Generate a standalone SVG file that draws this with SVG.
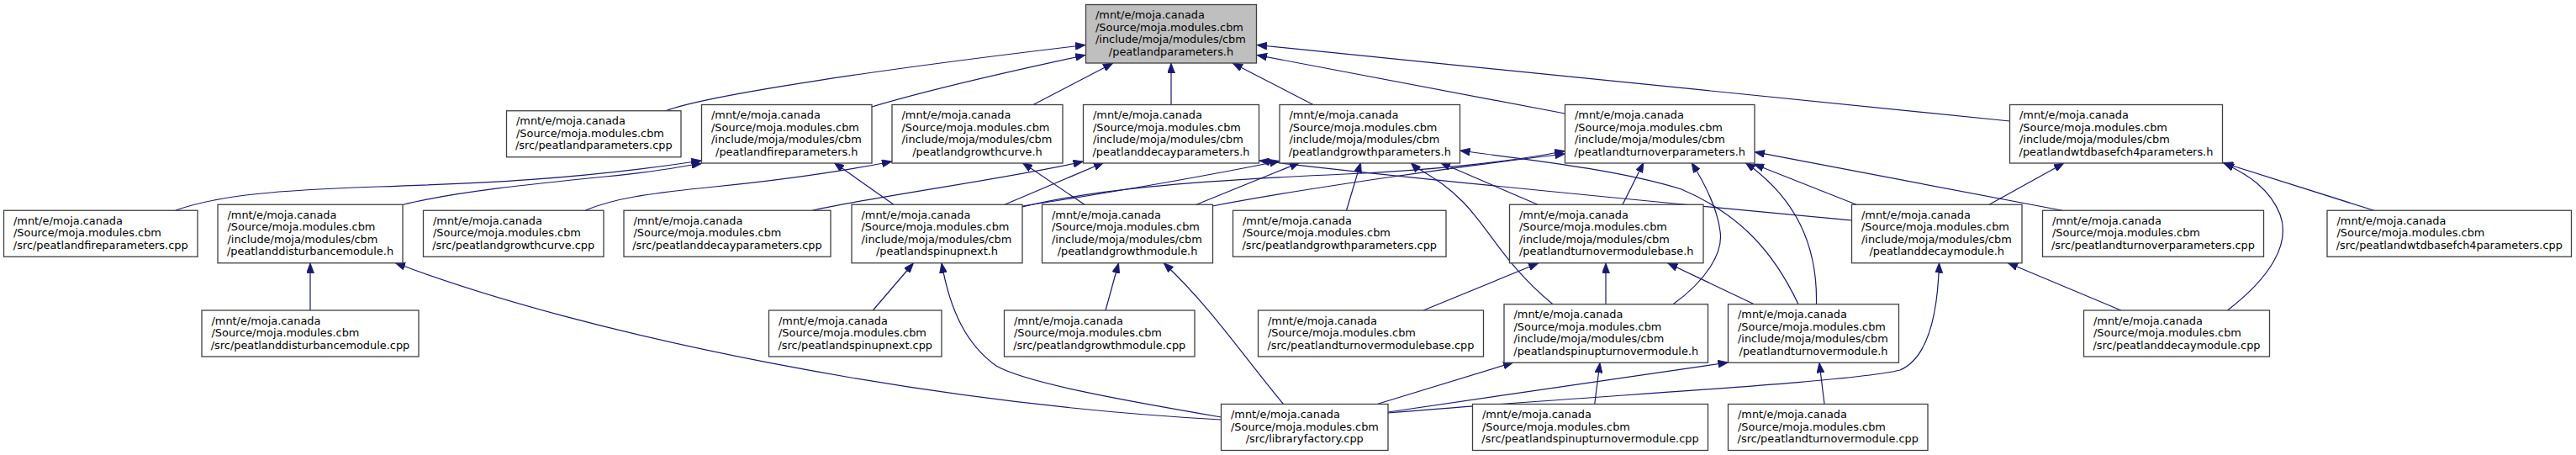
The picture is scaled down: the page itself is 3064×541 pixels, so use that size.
<svg xmlns="http://www.w3.org/2000/svg" width="3064" height="541" viewBox="0 0 3064 541">
<style>
.n rect{fill:#ffffff;stroke:#404040;stroke-width:1.3}
.m rect{fill:#bfbfbf;stroke:#404040;stroke-width:1.3}
text{font-family:"DejaVu Sans","Liberation Sans",sans-serif;font-size:12.9px;fill:#000}
.c{text-anchor:middle}
#edges path{fill:none;stroke:#191970;stroke-width:1.2;marker-end:url(#ah)}
</style>
<defs>
<marker id="ah" viewBox="0 0 12 9" refX="12" refY="4.5" markerWidth="12" markerHeight="9" markerUnits="userSpaceOnUse" orient="auto">
<path d="M0,0 L12,4.5 L0,9 z" fill="#191970" stroke="#191970" stroke-width="0.8"/>
</marker>
</defs>
<rect width="3064" height="541" fill="#ffffff"/>
<g id="edges">
<path d="M791,132 C840,113 1050,82 1291,53.5"/>
<path d="M1037,127 C1110,105 1200,85 1291,65.5"/>
<path d="M1229,124.5 L1324,75"/>
<path d="M1393,124.5 L1393,75"/>
<path d="M1562,124.5 L1466,75"/>
<path d="M1861.5,135 L1495,65.5"/>
<path d="M2390.5,144 L1495,53.5"/>
<path d="M209,250 C260,232 330,226 450,222 S680,214 834.5,191"/>
<path d="M479,243.5 C540,228 640,218 720,210 S800,199 834.5,194.5"/>
<path d="M696.5,250 C730,236 770,230 850,222 S1000,204 1061,192"/>
<path d="M966.5,250 C1050,232 1200,212 1288.5,192"/>
<path d="M1063,243.25 L992,193.3"/>
<path d="M1195,243.25 L1313,193.3"/>
<path d="M1216,245 Q1380,220 1522,191.5"/>
<path d="M1216,246 C1300,226 1400,216 1600,207 C1700,203 1800,192 1861.5,179.5"/>
<path d="M1290,243.25 L1216,193.3"/>
<path d="M1423,243.25 L1546,193.3"/>
<path d="M1442,245 C1550,224 1750,196 1861.5,183"/>
<path d="M1601.5,250.25 L1618.5,193.3"/>
<path d="M1829,243.25 L1713,193.3"/>
<path d="M1847,361.75 C1790,315 1770,270 1740,240 S1690,205 1678,193.3"/>
<path d="M2139,361.75 C2110,300 2070,255 2000,225 C1920,200 1800,188 1736.5,179"/>
<path d="M2160.5,361.75 C2162,290 2135,235 2076,193.3"/>
<path d="M2208,243.25 L2086,195"/>
<path d="M1990,361.75 C2030,333 2050,300 2046,275 C2043,250 2030,222 2012,193.3"/>
<path d="M1930,243.25 L1955,193.3"/>
<path d="M2453,250.25 L2087,180.7"/>
<path d="M2202.5,262 C2000,243 1700,215 1498,191"/>
<path d="M2366,243.25 L2455,194"/>
<path d="M2823.7,250.25 L2644,193.5"/>
<path d="M2649.5,369 C2700,330 2725,290 2712,255 C2700,225 2675,208 2645,194"/>
<path d="M2522.8,369 L2388,312.5"/>
<path d="M1651,491 C1900,470 2200,455 2260,440 C2295,425 2305,370 2306.5,312.5"/>
<path d="M1651,490 L2055.5,431"/>
<path d="M1638,480.5 L1800,431"/>
<path d="M1526.5,480.5 C1480,425 1440,365 1384,312.5"/>
<path d="M1452.5,496 C1330,475 1220,455 1185,435 C1150,410 1130,370 1120,312.7"/>
<path d="M1452.5,499 C1100,480 700,400 470,312.5"/>
<path d="M369,369 L369,312.75"/>
<path d="M1038.3,369 L1086.5,312.75"/>
<path d="M1315,369 L1330.5,312.75"/>
<path d="M1693,369 L1830,312.75"/>
<path d="M1910,361.75 L1910,312.75"/>
<path d="M2086.5,361.75 L1983.5,312.75"/>
<path d="M1896.7,480.5 L1903,431.25"/>
<path d="M2170,480.5 L2164,431.25"/>
</g>
<g id="n_T" class="m"><rect x="1291.5" y="5.5" width="203" height="69.5"/><text><tspan x="1303" y="22">/mnt/e/moja.canada</tspan><tspan x="1303" y="36.5">/Source/moja.modules.cbm</tspan><tspan x="1303" y="51">/include/moja/modules/cbm</tspan><tspan class="c" x="1393" y="65.5">/peatlandparameters.h</tspan></text></g>
<g id="n_E" class="n"><rect x="602.5" y="131.75" width="207.5" height="55"/><text><tspan x="614" y="148.25">/mnt/e/moja.canada</tspan><tspan x="614" y="162.75">/Source/moja.modules.cbm</tspan><tspan class="c" x="706.25" y="177.25">/src/peatlandparameters.cpp</tspan></text></g>
<g id="n_F" class="n"><rect x="834.5" y="124.5" width="202.5" height="69.5"/><text><tspan x="846" y="141">/mnt/e/moja.canada</tspan><tspan x="846" y="155.5">/Source/moja.modules.cbm</tspan><tspan x="846" y="170">/include/moja/modules/cbm</tspan><tspan class="c" x="935.75" y="184.5">/peatlandfireparameters.h</tspan></text></g>
<g id="n_G" class="n"><rect x="1061" y="124.5" width="203" height="69.5"/><text><tspan x="1072.5" y="141">/mnt/e/moja.canada</tspan><tspan x="1072.5" y="155.5">/Source/moja.modules.cbm</tspan><tspan x="1072.5" y="170">/include/moja/modules/cbm</tspan><tspan class="c" x="1162.5" y="184.5">/peatlandgrowthcurve.h</tspan></text></g>
<g id="n_H" class="n"><rect x="1288.5" y="124.5" width="209" height="69.5"/><text><tspan x="1300" y="141">/mnt/e/moja.canada</tspan><tspan x="1300" y="155.5">/Source/moja.modules.cbm</tspan><tspan x="1300" y="170">/include/moja/modules/cbm</tspan><tspan class="c" x="1393" y="184.5">/peatlanddecayparameters.h</tspan></text></g>
<g id="n_I" class="n"><rect x="1522" y="124.5" width="214.5" height="69.5"/><text><tspan x="1533.5" y="141">/mnt/e/moja.canada</tspan><tspan x="1533.5" y="155.5">/Source/moja.modules.cbm</tspan><tspan x="1533.5" y="170">/include/moja/modules/cbm</tspan><tspan class="c" x="1629.25" y="184.5">/peatlandgrowthparameters.h</tspan></text></g>
<g id="n_Q" class="n"><rect x="1861.5" y="124.5" width="225.5" height="69.5"/><text><tspan x="1873" y="141">/mnt/e/moja.canada</tspan><tspan x="1873" y="155.5">/Source/moja.modules.cbm</tspan><tspan x="1873" y="170">/include/moja/modules/cbm</tspan><tspan class="c" x="1974.25" y="184.5">/peatlandturnoverparameters.h</tspan></text></g>
<g id="n_Y" class="n"><rect x="2390.5" y="124.5" width="253" height="69.5"/><text><tspan x="2402" y="141">/mnt/e/moja.canada</tspan><tspan x="2402" y="155.5">/Source/moja.modules.cbm</tspan><tspan x="2402" y="170">/include/moja/modules/cbm</tspan><tspan class="c" x="2517" y="184.5">/peatlandwtdbasefch4parameters.h</tspan></text></g>
<g id="n_A" class="n"><rect x="4.5" y="250.25" width="230.5" height="55"/><text><tspan x="16" y="266.75">/mnt/e/moja.canada</tspan><tspan x="16" y="281.25">/Source/moja.modules.cbm</tspan><tspan class="c" x="119.75" y="295.75">/src/peatlandfireparameters.cpp</tspan></text></g>
<g id="n_B" class="n"><rect x="259" y="243.25" width="220" height="69.5"/><text><tspan x="270.5" y="259.75">/mnt/e/moja.canada</tspan><tspan x="270.5" y="274.25">/Source/moja.modules.cbm</tspan><tspan x="270.5" y="288.75">/include/moja/modules/cbm</tspan><tspan class="c" x="369" y="303.25">/peatlanddisturbancemodule.h</tspan></text></g>
<g id="n_D" class="n"><rect x="503.5" y="250.25" width="214.5" height="55"/><text><tspan x="515" y="266.75">/mnt/e/moja.canada</tspan><tspan x="515" y="281.25">/Source/moja.modules.cbm</tspan><tspan class="c" x="610.75" y="295.75">/src/peatlandgrowthcurve.cpp</tspan></text></g>
<g id="n_DP" class="n"><rect x="742" y="250.25" width="246" height="55"/><text><tspan x="753.5" y="266.75">/mnt/e/moja.canada</tspan><tspan x="753.5" y="281.25">/Source/moja.modules.cbm</tspan><tspan class="c" x="865" y="295.75">/src/peatlanddecayparameters.cpp</tspan></text></g>
<g id="n_J" class="n"><rect x="1013" y="243.25" width="203" height="69.5"/><text><tspan x="1024.5" y="259.75">/mnt/e/moja.canada</tspan><tspan x="1024.5" y="274.25">/Source/moja.modules.cbm</tspan><tspan x="1024.5" y="288.75">/include/moja/modules/cbm</tspan><tspan class="c" x="1114.5" y="303.25">/peatlandspinupnext.h</tspan></text></g>
<g id="n_K" class="n"><rect x="1239.5" y="243.25" width="203" height="69.5"/><text><tspan x="1251" y="259.75">/mnt/e/moja.canada</tspan><tspan x="1251" y="274.25">/Source/moja.modules.cbm</tspan><tspan x="1251" y="288.75">/include/moja/modules/cbm</tspan><tspan class="c" x="1341" y="303.25">/peatlandgrowthmodule.h</tspan></text></g>
<g id="n_L" class="n"><rect x="1466.5" y="250.25" width="253.5" height="55"/><text><tspan x="1478" y="266.75">/mnt/e/moja.canada</tspan><tspan x="1478" y="281.25">/Source/moja.modules.cbm</tspan><tspan class="c" x="1593.25" y="295.75">/src/peatlandgrowthparameters.cpp</tspan></text></g>
<g id="n_R" class="n"><rect x="1795.5" y="243.25" width="230.5" height="69.5"/><text><tspan x="1807" y="259.75">/mnt/e/moja.canada</tspan><tspan x="1807" y="274.25">/Source/moja.modules.cbm</tspan><tspan x="1807" y="288.75">/include/moja/modules/cbm</tspan><tspan class="c" x="1910.75" y="303.25">/peatlandturnovermodulebase.h</tspan></text></g>
<g id="n_S" class="n"><rect x="2202.5" y="243.25" width="202.5" height="69.5"/><text><tspan x="2214" y="259.75">/mnt/e/moja.canada</tspan><tspan x="2214" y="274.25">/Source/moja.modules.cbm</tspan><tspan x="2214" y="288.75">/include/moja/modules/cbm</tspan><tspan class="c" x="2303.75" y="303.25">/peatlanddecaymodule.h</tspan></text></g>
<g id="n_Z" class="n"><rect x="2429.5" y="250.25" width="263" height="55"/><text><tspan x="2441" y="266.75">/mnt/e/moja.canada</tspan><tspan x="2441" y="281.25">/Source/moja.modules.cbm</tspan><tspan class="c" x="2561" y="295.75">/src/peatlandturnoverparameters.cpp</tspan></text></g>
<g id="n_AA" class="n"><rect x="2768" y="250.25" width="290.5" height="55"/><text><tspan x="2779.5" y="266.75">/mnt/e/moja.canada</tspan><tspan x="2779.5" y="281.25">/Source/moja.modules.cbm</tspan><tspan class="c" x="2913.25" y="295.75">/src/peatlandwtdbasefch4parameters.cpp</tspan></text></g>
<g id="n_C" class="n"><rect x="240" y="369" width="258" height="55"/><text><tspan x="251.5" y="385.5">/mnt/e/moja.canada</tspan><tspan x="251.5" y="400">/Source/moja.modules.cbm</tspan><tspan class="c" x="369" y="414.5">/src/peatlanddisturbancemodule.cpp</tspan></text></g>
<g id="n_M" class="n"><rect x="914.5" y="369" width="205.5" height="55"/><text><tspan x="926" y="385.5">/mnt/e/moja.canada</tspan><tspan x="926" y="400">/Source/moja.modules.cbm</tspan><tspan class="c" x="1017.25" y="414.5">/src/peatlandspinupnext.cpp</tspan></text></g>
<g id="n_N" class="n"><rect x="1194.5" y="369" width="226.5" height="55"/><text><tspan x="1206" y="385.5">/mnt/e/moja.canada</tspan><tspan x="1206" y="400">/Source/moja.modules.cbm</tspan><tspan class="c" x="1307.75" y="414.5">/src/peatlandgrowthmodule.cpp</tspan></text></g>
<g id="n_O" class="n"><rect x="1496.5" y="369" width="268" height="55"/><text><tspan x="1508" y="385.5">/mnt/e/moja.canada</tspan><tspan x="1508" y="400">/Source/moja.modules.cbm</tspan><tspan class="c" x="1630.5" y="414.5">/src/peatlandturnovermodulebase.cpp</tspan></text></g>
<g id="n_U" class="n"><rect x="1789" y="361.75" width="242.5" height="69.5"/><text><tspan x="1800.5" y="378.25">/mnt/e/moja.canada</tspan><tspan x="1800.5" y="392.75">/Source/moja.modules.cbm</tspan><tspan x="1800.5" y="407.25">/include/moja/modules/cbm</tspan><tspan class="c" x="1910.25" y="421.75">/peatlandspinupturnovermodule.h</tspan></text></g>
<g id="n_V" class="n"><rect x="2055.5" y="361.75" width="203" height="69.5"/><text><tspan x="2067" y="378.25">/mnt/e/moja.canada</tspan><tspan x="2067" y="392.75">/Source/moja.modules.cbm</tspan><tspan x="2067" y="407.25">/include/moja/modules/cbm</tspan><tspan class="c" x="2157" y="421.75">/peatlandturnovermodule.h</tspan></text></g>
<g id="n_AB" class="n"><rect x="2478.5" y="369" width="221" height="55"/><text><tspan x="2490" y="385.5">/mnt/e/moja.canada</tspan><tspan x="2490" y="400">/Source/moja.modules.cbm</tspan><tspan class="c" x="2589" y="414.5">/src/peatlanddecaymodule.cpp</tspan></text></g>
<g id="n_P" class="n"><rect x="1452.5" y="480.5" width="198.5" height="55"/><text><tspan x="1464" y="497">/mnt/e/moja.canada</tspan><tspan x="1464" y="511.5">/Source/moja.modules.cbm</tspan><tspan class="c" x="1551.75" y="526">/src/libraryfactory.cpp</tspan></text></g>
<g id="n_W" class="n"><rect x="1751.5" y="480.5" width="280" height="55"/><text><tspan x="1763" y="497">/mnt/e/moja.canada</tspan><tspan x="1763" y="511.5">/Source/moja.modules.cbm</tspan><tspan class="c" x="1891.5" y="526">/src/peatlandspinupturnovermodule.cpp</tspan></text></g>
<g id="n_X" class="n"><rect x="2055.5" y="480.5" width="237.5" height="55"/><text><tspan x="2067" y="497">/mnt/e/moja.canada</tspan><tspan x="2067" y="511.5">/Source/moja.modules.cbm</tspan><tspan class="c" x="2174.25" y="526">/src/peatlandturnovermodule.cpp</tspan></text></g>
</svg>
